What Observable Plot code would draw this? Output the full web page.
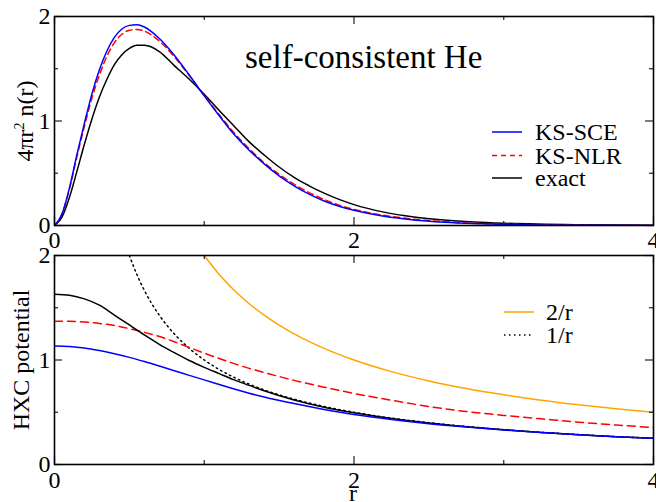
<!DOCTYPE html>
<html><head><meta charset="utf-8">
<script src="https://cdn.jsdelivr.net/npm/d3@7"></script>
<script src="https://cdn.jsdelivr.net/npm/@observablehq/plot@0.6"></script>
<style>
body{margin:0;background:#fff;}
#wrap{position:relative;width:656px;height:502px;overflow:hidden;font-family:"Liberation Serif","DejaVu Serif",serif;background:#fff;}
#wrap svg{position:absolute;left:0;}
#wrap text{font-family:"Liberation Serif","DejaVu Serif",serif;}
</style></head><body><div id="wrap"></div>
<script>
// ---- top panel: radial density 4*pi*r^2 n(r) ----
const rDen = [0,0.05,0.1,0.15,0.2,0.25,0.3,0.35,0.4,0.45,0.5,0.55,0.6,0.7,0.8,0.9,1.0,1.1,1.2,1.3,1.4,1.5,1.6,1.7,1.8,1.9,2.0,2.2,2.4,2.6,2.8,3.0,3.5,4.0];
const denSCE = [0,0.11,0.36,0.68,0.98,1.26,1.49,1.67,1.80,1.88,1.915,1.92,1.90,1.79,1.63,1.44,1.24,1.05,0.87,0.72,0.59,0.475,0.38,0.30,0.235,0.185,0.145,0.088,0.053,0.032,0.019,0.011,0.003,0.001];
const denNLR = [0,0.11,0.35,0.66,0.95,1.22,1.44,1.62,1.75,1.83,1.868,1.875,1.86,1.765,1.615,1.435,1.245,1.06,0.885,0.735,0.60,0.49,0.395,0.315,0.25,0.195,0.155,0.097,0.06,0.037,0.022,0.013,0.004,0.001];
const denExact = [0,0.08,0.27,0.52,0.78,1.02,1.23,1.40,1.54,1.635,1.695,1.725,1.725,1.665,1.53,1.40,1.255,1.10,0.95,0.80,0.675,0.56,0.46,0.38,0.31,0.25,0.20,0.128,0.082,0.053,0.034,0.022,0.007,0.002];

// ---- bottom panel: HXC potential ----
const rPot = [0,0.1,0.2,0.3,0.4,0.5,0.6,0.7,0.8,0.9,1.0,1.1,1.2,1.3,1.4,1.6,1.8,2.0,2.25,2.5,2.75,3.0,3.25,3.5,3.75,4.0];
const potSCE = [1.135,1.13,1.115,1.09,1.06,1.025,0.985,0.942,0.898,0.853,0.81,0.765,0.722,0.682,0.646,0.583,0.527,0.478,0.43,0.39,0.358,0.33,0.307,0.285,0.266,0.25];
const potNLR = [1.372,1.37,1.363,1.35,1.33,1.30,1.265,1.225,1.175,1.12,1.065,1.015,0.965,0.92,0.88,0.805,0.74,0.68,0.615,0.555,0.507,0.47,0.437,0.405,0.378,0.354];
const potExact = [1.63,1.62,1.585,1.525,1.43,1.335,1.24,1.15,1.07,0.995,0.93,0.87,0.81,0.757,0.705,0.617,0.548,0.495,0.44,0.397,0.362,0.332,0.307,0.285,0.266,0.25];
const rInv1 = [0.5,0.55,0.6,0.65,0.7,0.75,0.8,0.9,1.0,1.1,1.2,1.3,1.4,1.6,1.8,2.0,2.25,2.5,2.75,3.0,3.25,3.5,3.75,4.0];
const inv1 = [2.0,1.818,1.667,1.538,1.429,1.333,1.25,1.111,1.0,0.909,0.833,0.769,0.714,0.625,0.556,0.5,0.444,0.4,0.364,0.333,0.308,0.286,0.267,0.25];
const rInv2 = [1.0,1.1,1.2,1.3,1.4,1.5,1.6,1.8,2.0,2.25,2.5,2.75,3.0,3.25,3.5,3.75,4.0];
const inv2 = [2.0,1.818,1.667,1.538,1.429,1.333,1.25,1.111,1.0,0.889,0.8,0.727,0.667,0.615,0.571,0.533,0.5];

// ticks
const xMajor = [0,2,4], xMinor = [1,3];
const yMajor = [0,1,2], yMinor = [0.5,1.5];
const xLabels = ["0","2","4"], yLabels = ["0","1","2"];

const zipXY = (xs, ys) => xs.map((x, i) => ({x, y: ys[i]}));

const W = 656, ML = 54, MR = 3, MT = 16, PH = 209;
const font = '"Liberation Serif", "DejaVu Serif", serif';

function panel(series, top, h, xPad) {
  const mb = h - MT - PH;
  const pw = W - ML - MR;
  const marks = [];
  for (const s of series) {
    marks.push(Plot.line(s.data, {x: "x", y: "y", stroke: s.color, strokeWidth: s.width || 1.5,
      strokeDasharray: s.dash || null, curve: "monotone-x", clip: true}));
  }
  const tk = {stroke: "#222", strokeWidth: 1.2};
  marks.push(
    Plot.tickX(xMajor, {...tk, insetTop: PH - 8}),
    Plot.tickX(xMajor, {...tk, insetBottom: PH - 8}),
    Plot.tickX(xMinor, {...tk, insetTop: PH - 4}),
    Plot.tickX(xMinor, {...tk, insetBottom: PH - 4}),
    Plot.tickY(yMajor, {...tk, insetRight: pw - 8}),
    Plot.tickY(yMajor, {...tk, insetLeft: pw - 8}),
    Plot.tickY(yMinor, {...tk, insetRight: pw - 4}),
    Plot.tickY(yMinor, {...tk, insetLeft: pw - 4}),
    Plot.frame({stroke: "black", strokeWidth: 1.6}),
    Plot.axisX({ticks: xMajor, tickFormat: (d) => xLabels[xMajor.indexOf(d)], tickSize: 0, tickPadding: xPad, label: null, fill: "black", fontFamily: font}),
    Plot.axisY({ticks: yMajor, tickFormat: (d) => yLabels[yMajor.indexOf(d)], tickSize: 0, tickPadding: 4, label: null, fill: "black", fontFamily: font})
  );
  const svg = Plot.plot({
    width: W, height: h,
    marginLeft: ML, marginRight: MR, marginTop: MT, marginBottom: mb,
    x: {domain: [0, 4]},
    y: {domain: [0, 2]},
    style: {fontFamily: font, fontSize: "24px", background: "transparent", overflow: "visible", color: "black"},
    marks
  });
  svg.style.top = top + "px";
  return svg;
}

const wrap = document.getElementById("wrap");
const topSvg = panel([
  {data: zipXY(rDen, denExact), color: "black"},
  {data: zipXY(rDen, denNLR), color: "#ff0000", dash: "6,4"},
  {data: zipXY(rDen, denSCE), color: "#0000ff"}
], 0, 250, 5);
const botSvg = panel([
  {data: zipXY(rInv2, inv2), color: "#ffa500"},
  {data: zipXY(rInv1, inv1), color: "black", dash: "1.5,3.5"},
  {data: zipXY(rPot, potNLR), color: "#ff0000", dash: "8,5"},
  {data: zipXY(rPot, potExact), color: "black"},
  {data: zipXY(rPot, potSCE), color: "#0000ff"}
], 239, 263, 6);
wrap.appendChild(topSvg);
wrap.appendChild(botSvg);

// overlay: title, axis labels, legends
const ns = "http://www.w3.org/2000/svg";
const ov = document.createElementNS(ns, "svg");
ov.setAttribute("width", W); ov.setAttribute("height", 502);
ov.style.top = "0px";
ov.setAttribute("font-family", font);
wrap.appendChild(ov);
function txt(x, y, s, size, attrs = {}) {
  const t = document.createElementNS(ns, "text");
  t.setAttribute("x", x); t.setAttribute("y", y);
  t.setAttribute("font-size", size);
  for (const k in attrs) t.setAttribute(k, attrs[k]);
  t.textContent = s;
  ov.appendChild(t);
  return t;
}
function ln(x1, y, x2, color, dash) {
  const l = document.createElementNS(ns, "line");
  l.setAttribute("x1", x1); l.setAttribute("x2", x2);
  l.setAttribute("y1", y); l.setAttribute("y2", y);
  l.setAttribute("stroke", color); l.setAttribute("stroke-width", 1.5);
  if (dash) l.setAttribute("stroke-dasharray", dash);
  ov.appendChild(l);
}
txt(245, 68, "self-consistent He", 33);
// y label top
const yl = document.createElementNS(ns, "text");
yl.setAttribute("transform", "translate(33,121) rotate(-90)");
yl.setAttribute("text-anchor", "middle");
yl.setAttribute("font-size", 24);
yl.innerHTML = '4πr<tspan font-size="14" dy="-9">2</tspan><tspan dy="9"> n(r)</tspan>';
ov.appendChild(yl);
txt(0, 0, "HXC potential", 24, {transform: "translate(29,360) rotate(-90)", "text-anchor": "middle"});
txt(353, 501, "r", 24, {"text-anchor": "middle"});
// legends
const legTop = [["KS-SCE", "#0000ff", null, 132], ["KS-NLR", "#ff0000", "5,4", 155.5], ["exact", "black", null, 178]];
for (const [name, c, d, y] of legTop) { ln(492, y, 522, c, d); txt(535, y + 8, name, 24); }
const legBot = [["2/r", "#ffa500", null, 312], ["1/r", "black", "1.5,3.5", 335]];
for (const [name, c, d, y] of legBot) { ln(504, y, 534, c, d); txt(546, y + 8, name, 24); }
</script>
</body></html>
